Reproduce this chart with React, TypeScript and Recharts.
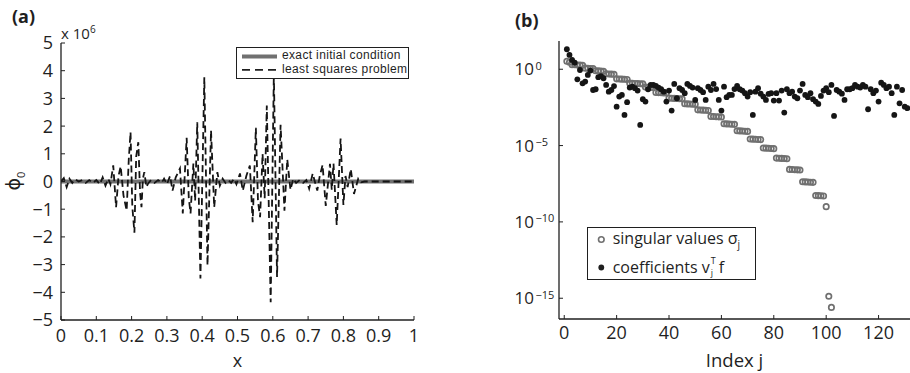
import React from "react";
import { LineChart, Line, ScatterChart, Scatter, XAxis, YAxis, Legend } from "recharts";

const FONT = '"Open Sans", "DejaVu Sans", sans-serif';
const INK = "#1f1f1f";
const GREY = "#707070";
const TICK_LEN = 4;

// panel (a): least squares solution phi_0(x), in units of 1e6
const lsqX = [
  0, 0.008, 0.016, 0.024, 0.032, 0.04, 0.05, 0.06, 0.07, 0.08, 0.09, 0.1, 0.11, 0.118, 0.126, 0.134, 0.14,
  0.148, 0.156, 0.163, 0.169, 0.177, 0.186, 0.192, 0.197, 0.202, 0.208, 0.213, 0.219, 0.224, 0.228, 0.232,
  0.236, 0.242, 0.247, 0.255, 0.265, 0.275, 0.285, 0.292, 0.3, 0.309, 0.316, 0.325, 0.337, 0.345, 0.356,
  0.362, 0.367, 0.375, 0.38, 0.386, 0.395, 0.406, 0.415, 0.425, 0.434, 0.443, 0.45, 0.458, 0.466, 0.474,
  0.482, 0.49, 0.497, 0.507, 0.515, 0.525, 0.535, 0.543, 0.552, 0.558, 0.564, 0.571, 0.577, 0.583, 0.594,
  0.603, 0.612, 0.622, 0.633, 0.641, 0.65, 0.658, 0.666, 0.676, 0.686, 0.695, 0.703, 0.713, 0.726, 0.733,
  0.741, 0.75, 0.762, 0.767, 0.772, 0.781, 0.792, 0.8, 0.806, 0.812, 0.821, 0.83, 0.842, 0.85, 0.86, 1,
];
const lsqPhi = [
  0, 0.12, -0.2, 0.1, -0.05, 0.08, 0, 0.05, -0.05, 0.05, -0.05, 0.05, -0.1, 0.15, -0.15, 0.1, -0.1,
  0.58, -0.93, 0.2, 0.55, -0.5, -1.05, 0.8, 1.78, -0.9, -1.85, 0.9, 1.42, -0.4, -0.93, 0.1,
  0.34, -0.2, -0.07, 0.05, -0.05, 0.05, -0.05, 0.1, -0.1, 0.2, -0.33, 0.15, 0.47, -1.15, 1.58,
  -0.6, -1.15, 0.65, -0.7, 2.14, -3.5, 3.76, -3.03, 1.84, -0.93, 0.34, -0.15, 0.1, -0.05, 0.05,
  -0.05, 0.1, -0.1, 0.29, -0.33, 0.2, 0.58, -1.47, 1.94, -0.7, -1.29, 1.0, -0.6, 2.74, -4.36,
  3.9, -3.45, 2.05, -1.05, 0.8, -0.3, 0.1, -0.05, 0.05, -0.05, 0.05, -0.26, 0.29, -0.33, 0.2,
  0.6, -0.88, 0.64, -0.3, 0.65, -1.57, 1.55, -0.85, 0.2, -0.2, 0.45, -0.45, 0.1, -0.03, 0, 0,
];
// exact initial condition is O(1), i.e. zero on this scale
const exactX = [0, 0.5, 1];
const exactPhi = [0, 0, 0];
const xTicksA = [0, 0.1, 0.2, 0.3, 0.4, 0.5, 0.6, 0.7, 0.8, 0.9, 1];
const yTicksA = [-5, -4, -3, -2, -1, 0, 1, 2, 3, 4, 5];

// panel (b): log10 of singular values sigma_j, j = 1..102
const sigmaLog10 = [
  0.52, 0.46,
  0.3, 0.29, 0.28, 0.27, 0.26,
  0.07, 0.06, 0.05, 0.04,
  -0.1, -0.11, -0.12, -0.13,
  -0.3, -0.31, -0.32, -0.33,
  -0.63, -0.64, -0.65, -0.66, -0.67,
  -0.91, -0.92, -0.93, -0.94, -0.95, -0.96,
  -1.17, -1.18, -1.19, -1.2,
  -1.52, -1.53, -1.54, -1.55, -1.56,
  -1.89, -1.9, -1.91, -1.92, -1.93, -1.94,
  -2.26, -2.27, -2.28, -2.29, -2.3,
  -2.66, -2.67, -2.68, -2.69, -2.7,
  -3.09, -3.1, -3.11, -3.12, -3.13,
  -3.57, -3.58, -3.59, -3.6, -3.61,
  -4.03, -4.04, -4.05, -4.06, -4.07,
  -4.57, -4.58, -4.59, -4.6, -4.61,
  -5.16, -5.17, -5.18, -5.19, -5.2,
  -5.82, -5.83, -5.84, -5.85, -5.86,
  -6.56, -6.57, -6.58, -6.59, -6.6,
  -7.37, -7.38, -7.39, -7.4, -7.41,
  -8.27, -8.28, -8.29, -8.3,
  -9.0,
  -14.87, -15.6,
];
// log10 of coefficients |v_j^T f|, j = 1..131
const coeffLog10 = [
  1.31, 0.94, 0.61, 0.43, -0.66, -0.05, -0.92, -0.81, -0.37, -0.09,
  -1.36, -1.31, -0.52, -0.45, -0.59, -1.03, -1.47, -1.36, -1.1, -2.45,
  -1.79, -1.68, -2.99, -2.16, -1.2, -1.14, -1.24, -1.4, -3.65, -1.96,
  -2.12, -1.31, -1.03, -1.03, -1.09, -1.2, -1.31, -1.47, -2.12, -1.4,
  -2.71, -0.96, -1.9, -1.24, -1.36, -1.57, -0.96, -1.09, -1.2, -2.01,
  -1.24, -1.36, -1.5, -2.01, -1.14, -1.36, -0.96, -1.3, -2.01, -2.71,
  -1.14, -1.83, -1.68, -1.68, -1.3, -1.09, -1.31, -1.4, -1.57, -1.79,
  -1.5, -2.99, -1.47, -1.24, -1.6, -1.79, -2.01, -1.62, -1.57, -2.05,
  -1.57, -2.05, -1.4, -2.84, -1.31, -1.57, -1.47, -1.79, -1.9, -1.4,
  -0.96, -1.68, -1.83, -1.57, -1.96, -2.12, -2.27, -1.75, -1.4, -1.24,
  -1.5, -1.03, -3.06, -1.36, -1.47, -1.6, -2.01, -1.31, -1.31, -1.24,
  -1.03, -1.14, -1.2, -1.03, -1.14, -2.62, -1.31, -1.57, -1.4, -2.12,
  -0.88, -1.03, -1.24, -1.14, -1.57, -2.99, -1.14, -2.23, -1.36, -2.45,
  -2.55,
];
const jTicks = [0, 20, 40, 60, 80, 100, 120];
const logTicks = [-15, -10, -5, 0];

const lsqData = lsqX.map((x, i) => ({ x, phi: lsqPhi[i] }));
const exactData = exactX.map((x, i) => ({ x, phi: exactPhi[i] }));
const sigmaData = sigmaLog10.map((v, i) => ({ j: i + 1, v }));
const coeffData = coeffLog10.map((v, i) => ({ j: i + 1, v }));

const signed = (v: number) => (v < 0 ? "\u2212" + Math.abs(v) : String(v));

// tick label outside, tick mark pointing into the plot (matlab style)
function BottomTick(props: any) {
  const { x, y, payload, m, fs } = props;
  const y0 = y - m;
  return (
    <g>
      <line x1={x} x2={x} y1={y0} y2={y0 - TICK_LEN} stroke={INK} strokeWidth={1} />
      <text x={x} y={y} dy="0.72em" textAnchor="middle" fontSize={fs} fontFamily={FONT} fill={INK}>
        {signed(payload.value)}
      </text>
    </g>
  );
}

function LeftTick(props: any) {
  const { x, y, payload, m, fs } = props;
  const x0 = x + m;
  return (
    <g>
      <line x1={x0} x2={x0 + TICK_LEN} y1={y} y2={y} stroke={INK} strokeWidth={1} />
      <text x={x} y={y} dy="0.36em" textAnchor="end" fontSize={fs} fontFamily={FONT} fill={INK}>
        {signed(payload.value)}
      </text>
    </g>
  );
}

function LogTick(props: any) {
  const { x, y, payload, m } = props;
  const x0 = x + m;
  return (
    <g fontFamily={FONT} fill={INK}>
      <line x1={x0} x2={x0 + TICK_LEN} y1={y} y2={y} stroke={INK} strokeWidth={1} />
      <text x={x} y={y} dy="0.36em" textAnchor="end" fontSize={17}>10</text>
      <text x={x + 1.5} y={y} dy="0.05em" textAnchor="start" fontSize={11}>
        {signed(payload.value)}
      </text>
    </g>
  );
}

function LegendA() {
  const line: React.CSSProperties = { height: 13.4, lineHeight: "13.4px" };
  return (
    <div style={{ border: `1px solid ${INK}`, background: "#fff", width: 171, height: 30, position: "relative" }}>
      <svg width={42} height={30} style={{ position: "absolute", left: 0, top: 0 }}>
        <line x1={5} x2={40} y1={8.5} y2={8.5} stroke={GREY} strokeWidth={4} />
        <line x1={5} x2={40} y1={21.8} y2={21.8} stroke={INK} strokeWidth={1.8} strokeDasharray="8 5" />
      </svg>
      <div
        style={{
          position: "absolute", left: 45, top: 1.8, fontSize: 12, letterSpacing: "0.35px",
          whiteSpace: "nowrap", color: INK, fontFamily: '"Liberation Sans", Arial, sans-serif',
        }}
      >
        <div style={line}>exact initial condition</div>
        <div style={line}>least squares problem</div>
      </div>
    </div>
  );
}

function LegendB() {
  const row: React.CSSProperties = { height: 23, display: "flex", alignItems: "center", whiteSpace: "nowrap" };
  return (
    <div
      style={{
        border: `1px solid ${INK}`, background: "#fff", width: 167, height: 51, boxSizing: "content-box",
        fontFamily: FONT, fontSize: 16, color: INK,
      }}
    >
      <div style={row}>
        <svg width={24} height={23}>
          <circle cx={13.3} cy={11.5} r={2.8} fill="none" stroke={GREY} strokeWidth={1.6} />
        </svg>
        <span style={{ marginLeft: 1 }}>
          singular values σ<sub style={{ fontSize: 10, color: INK }}>j</sub>
        </span>
      </div>
      <div style={{ ...row, marginTop: 5 }}>
        <svg width={24} height={23}>
          <circle cx={13.3} cy={11.5} r={2.9} fill={INK} />
        </svg>
        <span style={{ marginLeft: 1 }}>coefficients v</span>
        <span style={{ display: "inline-flex", flexDirection: "column", fontSize: 9, lineHeight: "12.5px", margin: "0 3px 0 1px" }}>
          <span>T</span>
          <span>j</span>
        </span>
        <span>f</span>
      </div>
    </div>
  );
}

const openCircle = (p: any) => <circle cx={p.cx} cy={p.cy} r={2.7} fill="none" stroke={GREY} strokeWidth={1.7} />;
const dot = (p: any) => <circle cx={p.cx} cy={p.cy} r={2.9} fill="#151515" />;

const axisLine = { stroke: INK, strokeWidth: 1.3 };

export default function App() {
  return (
    <div style={{ position: "absolute", left: 0, top: 0, width: 910, height: 373, background: "#fff", overflow: "hidden", fontFamily: FONT, color: INK }}>
      {/* panel (a) */}
      <div style={{ position: "absolute", left: 0, top: 0 }}>
        <LineChart width={460} height={373} margin={{ top: 43, right: 46, bottom: 0, left: 0 }}>
          <XAxis
            dataKey="x" type="number" domain={[0, 1]} ticks={xTicksA} interval={0} allowDataOverflow
            height={53} tickSize={0} tickMargin={9} tickLine={false} axisLine={axisLine}
            tick={<BottomTick m={9} fs={18} />}
            label={{ value: "x", position: "insideBottom", offset: 6, fontSize: 18, fill: INK, fontFamily: FONT }}
          />
          <XAxis xAxisId="top" orientation="top" type="number" domain={[0, 1]} ticks={xTicksA} interval={0}
            mirror height={0} tick={false} tickSize={TICK_LEN} tickLine={{ stroke: INK }} axisLine={axisLine} />
          <YAxis
            type="number" domain={[-5, 5]} ticks={yTicksA} interval={0} allowDataOverflow
            width={61} tickSize={0} tickMargin={8} tickLine={false} axisLine={axisLine}
            tick={<LeftTick m={8} fs={18} />}
          />
          <YAxis yAxisId="right" orientation="right" type="number" domain={[-5, 5]} ticks={yTicksA} interval={0}
            mirror width={0} tick={false} tickSize={TICK_LEN} tickLine={{ stroke: INK }} axisLine={axisLine} />
          <Line data={exactData} dataKey="phi" type="linear" stroke={GREY} strokeWidth={4} dot={false} isAnimationActive={false} />
          <Line data={lsqData} dataKey="phi" type="linear" stroke="#141414" strokeWidth={1.8} strokeDasharray="7 4" dot={false} isAnimationActive={false} />
          <Legend layout="horizontal" verticalAlign="middle" align="center" content={<LegendA />}
            wrapperStyle={{ left: 236, top: 46.5, right: "auto", bottom: "auto", width: "auto", height: "auto" }} />
        </LineChart>
      </div>

      {/* panel (b) */}
      <div style={{ position: "absolute", left: 460, top: 0 }}>
        <ScatterChart width={450} height={373} margin={{ top: 41, right: 0, bottom: 0, left: 0 }}>
          <XAxis
            dataKey="j" type="number" domain={[-2, 132]} ticks={jTicks} interval={0} allowDataOverflow
            height={54} tickSize={0} tickMargin={7} tickLine={false} axisLine={axisLine}
            tick={<BottomTick m={7} fs={18} />}
            label={{ value: "Index j", position: "insideBottom", offset: 6, fontSize: 18.5, fill: INK, fontFamily: FONT }}
          />
          <XAxis xAxisId="top" orientation="top" type="number" domain={[-2, 132]} ticks={jTicks} interval={0}
            mirror height={0} tick={false} tickSize={TICK_LEN} tickLine={{ stroke: INK }} axisLine={axisLine} />
          <YAxis
            dataKey="v" type="number" domain={[-16.36, 1.85]} ticks={logTicks} interval={0} allowDataOverflow
            width={99} tickSize={0} tickMargin={25} tickLine={false} axisLine={axisLine}
            tick={<LogTick m={25} />}
          />
          <YAxis yAxisId="right" orientation="right" type="number" domain={[-16.36, 1.85]} ticks={logTicks} interval={0}
            mirror width={0} tick={false} tickSize={TICK_LEN} tickLine={{ stroke: INK }} axisLine={axisLine} />
          <Scatter data={sigmaData} dataKey="v" shape={openCircle} isAnimationActive={false} />
          <Scatter data={coeffData} dataKey="v" shape={dot} isAnimationActive={false} />
          <Legend layout="horizontal" verticalAlign="middle" align="center" content={<LegendB />}
            wrapperStyle={{ left: 126.7, top: 226.7, right: "auto", bottom: "auto", width: "auto", height: "auto" }} />
        </ScatterChart>
      </div>

      {/* panel letters and axis annotations */}
      <div style={{ position: "absolute", left: 12, top: 6, fontSize: 18, fontWeight: 700, lineHeight: "20px" }}>(a)</div>
      <div style={{ position: "absolute", left: 515, top: 10, fontSize: 18, fontWeight: 700, lineHeight: "20px" }}>(b)</div>
      <div style={{ position: "absolute", left: 61, top: 22, fontSize: 15, lineHeight: "15px", whiteSpace: "nowrap" }}>
        x 10<sup style={{ fontSize: 10, verticalAlign: "6px" }}>6</sup>
      </div>
      <div
        style={{
          position: "absolute", left: 17, top: 181, transform: "translate(-50%, -50%) rotate(-90deg)",
          fontSize: 19, lineHeight: "20px", whiteSpace: "nowrap",
        }}
      >
        ϕ<sub style={{ fontSize: 11 }}>0</sub>
      </div>
    </div>
  );
}
